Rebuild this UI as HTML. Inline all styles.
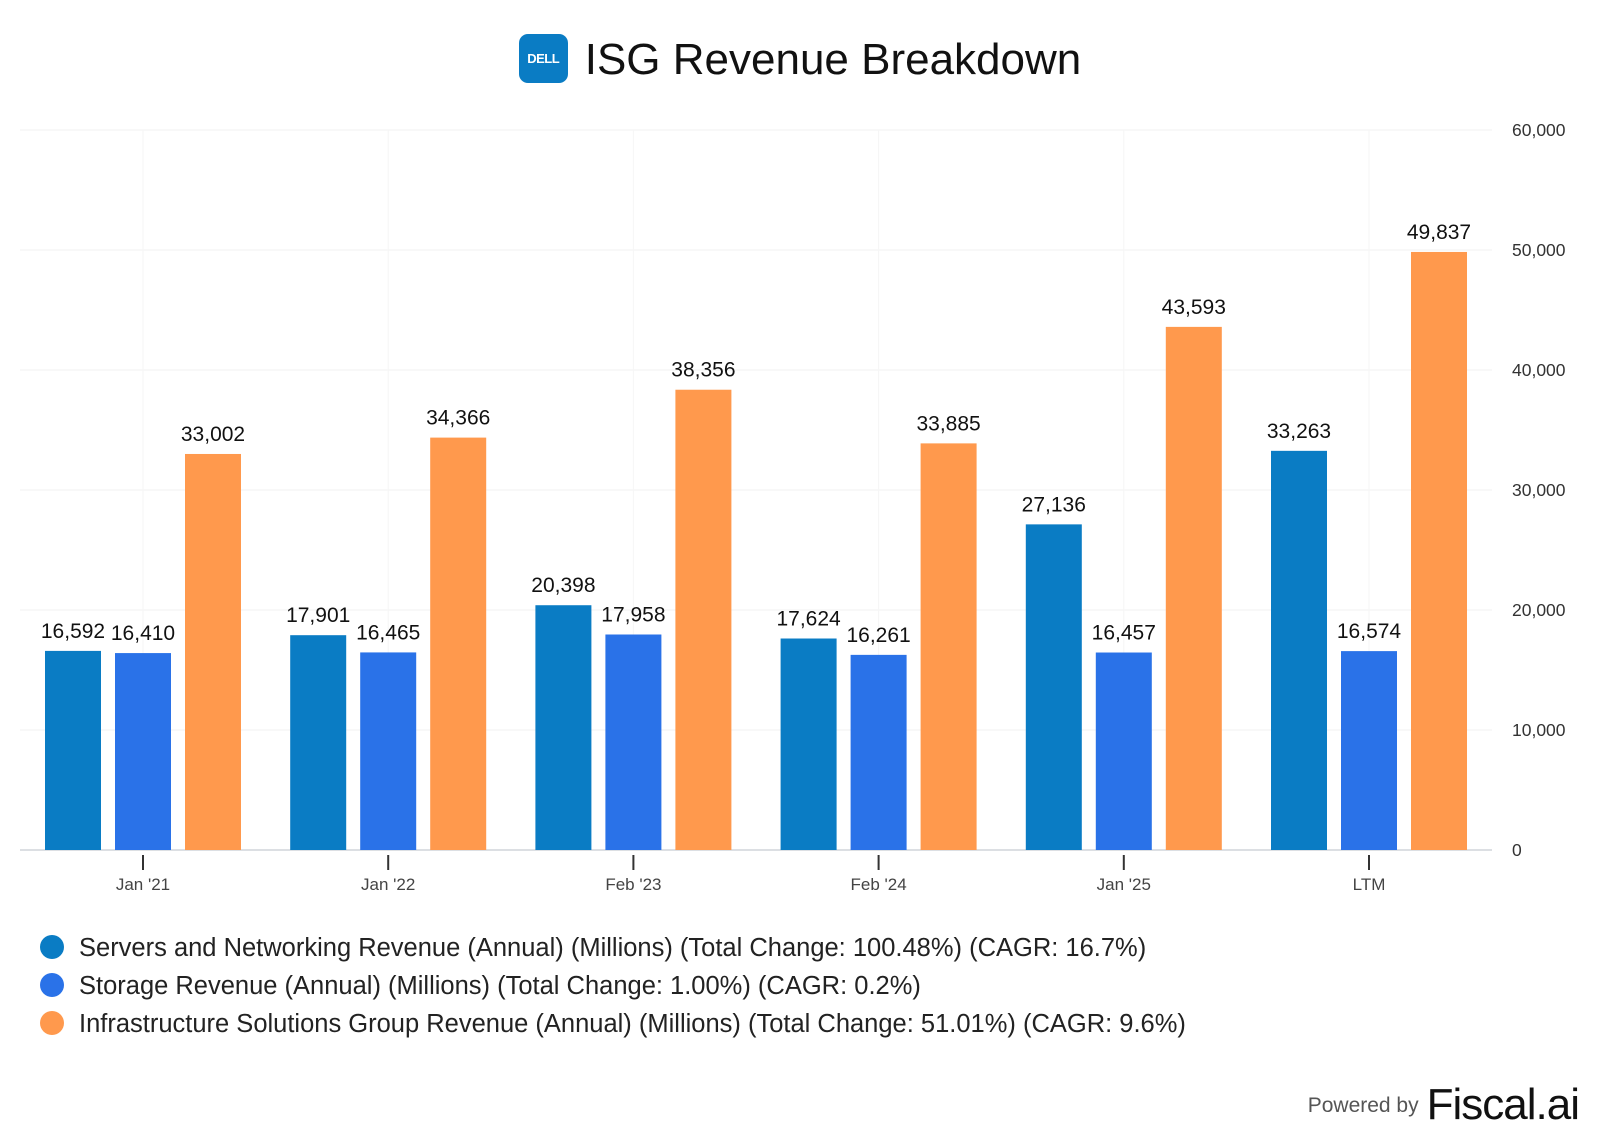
<!DOCTYPE html>
<html><head><meta charset="utf-8">
<style>
body{margin:0;width:1600px;height:1134px;background:#fff;font-family:"Liberation Sans",Arial,sans-serif;overflow:hidden;position:relative}
.title{position:absolute;top:32px;left:0;width:1600px;text-align:center;font-size:44px;color:#111;line-height:56px}
.logo{display:inline-block;width:49px;height:49px;background:#0a7cc4;border-radius:9px;vertical-align:middle;margin-right:17px;color:#fff;font-size:13px;font-weight:bold;line-height:49px;text-align:center;letter-spacing:-0.5px;position:relative;top:-4px}
.legend{position:absolute;left:40px;top:929px;font-size:25.5px;color:#222}
.legend div{height:38px;line-height:38px;white-space:nowrap}
.dot{display:inline-block;width:24px;height:24px;border-radius:50%;vertical-align:-3px;margin-right:15px}
.powered{position:absolute;right:21px;top:1080px;font-size:21px;color:#555}
.powered b{font-size:44px;color:#111;font-weight:normal;letter-spacing:-1px;vertical-align:-7px;margin-left:8px}
</style></head><body>
<div class="title"><span class="logo">DELL</span>ISG Revenue Breakdown</div>
<svg id="chart" width="1600" height="900" style="position:absolute;left:0;top:0"></svg>
<div class="legend">
<div><span class="dot" style="background:#0a7cc4"></span>Servers and Networking Revenue (Annual) (Millions) (Total Change: 100.48%) (CAGR: 16.7%)</div>
<div><span class="dot" style="background:#2a72e8"></span>Storage Revenue (Annual) (Millions) (Total Change: 1.00%) (CAGR: 0.2%)</div>
<div><span class="dot" style="background:#ff994d"></span>Infrastructure Solutions Group Revenue (Annual) (Millions) (Total Change: 51.01%) (CAGR: 9.6%)</div>
</div>
<div class="powered">Powered by<b>Fiscal.ai</b></div>
<script>
const categories=["Jan '21","Jan '22","Feb '23","Feb '24","Jan '25","LTM"];
const servers=[16592,17901,20398,17624,27136,33263];
const storage=[16410,16465,17958,16261,16457,16574];
const isg=[33002,34366,38356,33885,43593,49837];
const yTicks=[0,10000,20000,30000,40000,50000,60000];
const colors=["#0a7cc4","#2a72e8","#ff994d"];
const svg=document.getElementById('chart');
const NS="http://www.w3.org/2000/svg";
const y0=850,yTop=130,yMax=60000;
const y=v=>y0-(v/yMax)*(y0-yTop);
const x=i=>143+i*245.2;
function mk(tag,attrs,parent){const e=document.createElementNS(NS,tag);for(const k in attrs)e.setAttribute(k,attrs[k]);(parent||svg).appendChild(e);return e;}
yTicks.forEach(t=>{
  const g=mk('line',{x1:20,x2:1492,y1:y(t),y2:y(t),stroke:t===0?'#dcdfe3':'#f2f2f2','stroke-width':t===0?2:1});
  
  
  const l=mk('text',{x:1512,y:y(t)+6,'font-size':17.5,fill:'#333'});
  l.textContent=t.toLocaleString('en-US');
  
  
});
categories.forEach((c,i)=>{
  const v=mk('line',{x1:x(i),x2:x(i),y1:yTop,y2:y0,stroke:'#f6f6f6'});
  
  
  const tk=mk('line',{x1:x(i),x2:x(i),y1:y0+5,y2:y0+20,stroke:'#333','stroke-width':2});
  
  
  const t=mk('text',{x:x(i),y:890,'font-size':17,fill:'#444','text-anchor':'middle'});
  t.textContent=c;
  
  
  [servers,storage,isg].forEach((s,j)=>{
    const bx=x(i)-98+j*70,w=56;
    const r=mk('rect',{x:bx,y:y(s[i]),width:w,height:y0-y(s[i]),fill:colors[j]});
    
    
    const lb=mk('text',{x:bx+w/2,y:y(s[i])-13,'font-size':21,fill:'#111','text-anchor':'middle'});
    lb.textContent=s[i].toLocaleString('en-US');
    
    
  });
});
</script>
</body></html>
